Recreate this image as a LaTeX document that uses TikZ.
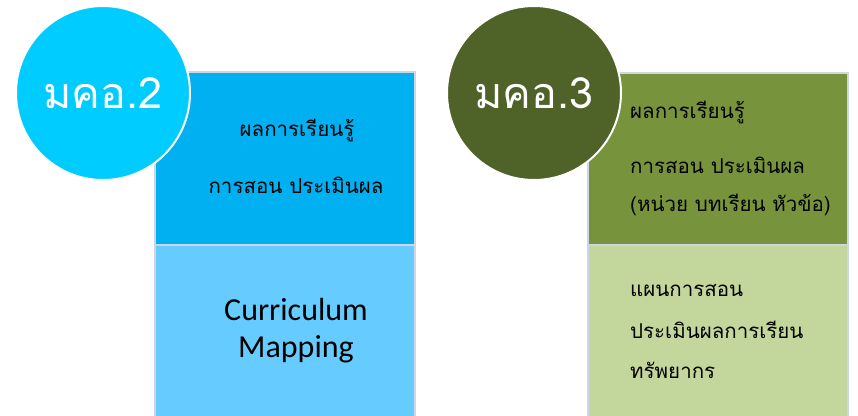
\documentclass[tikz,border=0pt]{standalone}
\usepackage{fontspec}
\setmainfont{Carlito}
\newfontfamily\thaifont[Script=Thai]{Loma}
\definecolor{cyanA}{HTML}{00CCFF}
\definecolor{cyanB}{HTML}{00B0F0}
\definecolor{cyanC}{HTML}{66CCFF}
\definecolor{oliveA}{HTML}{4F6228}
\definecolor{oliveB}{HTML}{77933C}
\definecolor{oliveC}{HTML}{C3D69B}
\definecolor{edgeC}{HTML}{CDD5E6}
\tikzset{
  panel/.style={draw=edgeC, line width=2pt, rectangle},
  badge/.style={circle, draw=white, line width=2pt, minimum size=174pt, inner sep=0pt,
    text=white, font=\thaifont\fontsize{43}{43}\selectfont},
  thtext/.style={font=\thaifont\fontsize{20.5}{20.5}\selectfont, text=black, inner sep=0pt},
}
\begin{document}
\begin{tikzpicture}[x=1pt,y=-1pt]
\useasboundingbox[fill=white] (0,0) rectangle (858,415);
% left group
\draw[panel, fill=cyanB] (155,72) rectangle (415,245);
\draw[panel, fill=cyanC] (155,245) rectangle (415,418);
\node[badge, fill=cyanA] (b2) at (103,93) {มคอ.2};
\node[thtext] (l1) at (297,130) {ผลการเรียนรู้};
\node[thtext] (l2) at (296,185) {การสอน\ ประเมินผล};
\node[font=\fontsize{32}{37}\selectfont, align=center, inner sep=0pt] (cm) at (296,331) {Curriculum\\Mapping};
% right group
\draw[panel, fill=oliveB] (588,73) rectangle (848,245);
\draw[panel, fill=oliveC] (588,245) rectangle (848,418);
\node[badge, fill=oliveA] (b3) at (534,93) {มคอ.3};
\node[thtext, anchor=west] (r1) at (630,112) {ผลการเรียนรู้};
\node[thtext, anchor=west] (r2) at (630,165) {การสอน ประเมินผล};
\node[thtext, anchor=west] (r3) at (630,205) {(หน่วย บทเรียน หัวข้อ)};
\node[thtext, anchor=west] (r4) at (630,290) {แผนการสอน};
\node[thtext, anchor=west] (r5) at (630,330) {ประเมินผลการเรียน};
\node[thtext, anchor=west] (r6) at (630,370) {ทรัพยากร};
\end{tikzpicture}
\end{document}
